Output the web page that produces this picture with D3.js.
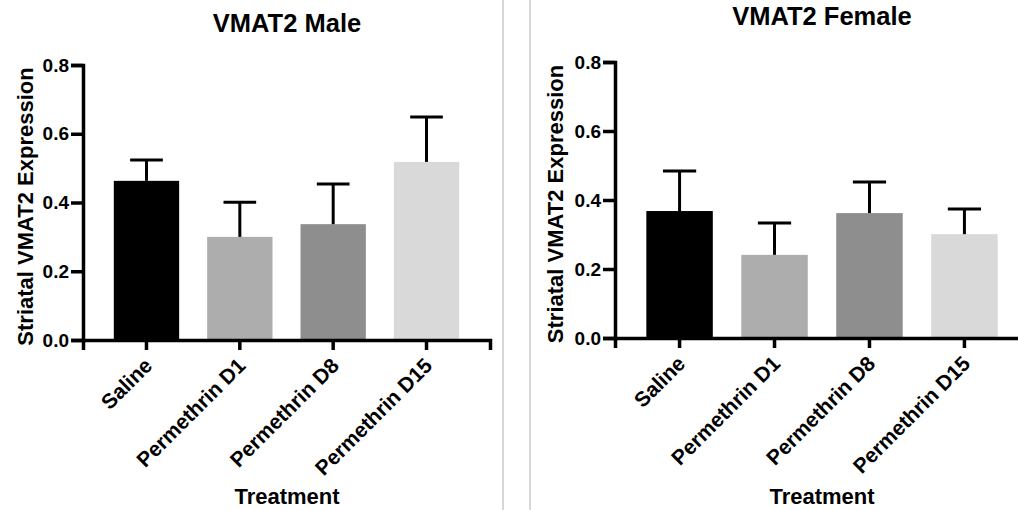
<!DOCTYPE html>
<html>
<head>
<meta charset="utf-8">
<script src="https://cdn.jsdelivr.net/npm/d3@7"></script>
<style>
  body { margin: 0; background: #fff; }
  svg { display: block; font-family: "Liberation Sans", Arial, Helvetica, sans-serif; }
</style>
</head>
<body>
<svg id="chart" width="1018" height="510"></svg>
<script>
// data
const treatments = ['Saline', 'Permethrin D1', 'Permethrin D8', 'Permethrin D15'];
const bar_colors = ['#000000', '#adadad', '#8e8e8e', '#d9d9d9'];
const y_ticks = [0.0, 0.2, 0.4, 0.6, 0.8];

const male_mean = [0.463, 0.300, 0.337, 0.518];
const male_sem = [0.061, 0.101, 0.117, 0.131];

const female_mean = [0.368, 0.241, 0.362, 0.301];
const female_sem = [0.116, 0.092, 0.090, 0.073];

const svg = d3.select('#chart');

// grey panel separators
[503, 530].forEach(function (x) {
	svg.append('line')
		.attr('x1', x).attr('x2', x)
		.attr('y1', 0).attr('y2', 510)
		.attr('stroke', '#bdbdbd')
		.attr('stroke-width', 1.2);
});

function panel(opts) {
	const g = svg.append('g');

	let x = d3.scaleBand()
		.domain(treatments)
		.range([opts.left, opts.right])
		.paddingInner(0.3)
		.paddingOuter(0.33);

	let y = d3.scaleLinear()
		.domain([0, 0.8])
		.range([opts.bottom, opts.top]);

	const data = treatments.map((t, i) => ({ t: t, mean: opts.mean[i], sem: opts.sem[i], color: bar_colors[i] }));

	// bars
	g.selectAll('rect.bar')
		.data(data)
		.enter()
		.append('rect')
		.attr('class', 'bar')
		.attr('x', d => x(d.t))
		.attr('width', x.bandwidth())
		.attr('y', d => y(d.mean))
		.attr('height', d => y(0) - y(d.mean))
		.attr('fill', d => d.color);

	// error bars (upper only)
	const cap = x.bandwidth() / 2;
	data.forEach(function (d) {
		const cx = x(d.t) + x.bandwidth() / 2;
		g.append('line')
			.attr('x1', cx).attr('x2', cx)
			.attr('y1', y(d.mean)).attr('y2', y(d.mean + d.sem))
			.attr('stroke', '#000').attr('stroke-width', 3);
		g.append('line')
			.attr('x1', cx - cap / 2).attr('x2', cx + cap / 2)
			.attr('y1', y(d.mean + d.sem)).attr('y2', y(d.mean + d.sem))
			.attr('stroke', '#000').attr('stroke-width', 3);
	});

	// x axis
	const xa = g.append('g')
		.attr('transform', 'translate(0,' + opts.bottom + ')')
		.call(d3.axisBottom(x).tickSizeOuter(0).tickSize(10));

	xa.selectAll('text')
		.attr('text-anchor', 'end')
		.attr('y', 0)
		.attr('dy', 0)
		.attr('transform', 'translate(7,27) rotate(-45)')
		.style('font-size', '21px')
		.style('font-weight', 'bold')
		.attr('fill', '#000');

	// y axis
	const ya = g.append('g')
		.attr('transform', 'translate(' + opts.left + ',0)')
		.call(d3.axisLeft(y).tickValues(y_ticks).tickFormat(d3.format('.1f')).tickSizeOuter(0).tickSize(12).tickPadding(2));

	ya.selectAll('text')
		.style('font-size', '19px')
		.style('font-weight', 'bold')
		.attr('fill', '#000');

	[xa, ya].forEach(function (a) {
		a.select('.domain').attr('stroke', '#000').attr('stroke-width', 3.5);
		a.selectAll('.tick line').attr('stroke', '#000').attr('stroke-width', 3.5);
	});

	// titles
	g.append('text')
		.attr('x', opts.title_x)
		.attr('y', opts.title_y)
		.attr('text-anchor', 'middle')
		.style('font-size', '25.5px')
		.style('font-weight', 'bold')
		.text(opts.title);

	g.append('text')
		.attr('x', opts.title_x)
		.attr('y', 504)
		.attr('text-anchor', 'middle')
		.style('font-size', '22px')
		.style('font-weight', 'bold')
		.text('Treatment');

	g.append('text')
		.attr('transform', 'translate(' + opts.ylab_x + ',' + ((opts.top + opts.bottom) / 2 + 4) + ') rotate(-90)')
		.attr('text-anchor', 'middle')
		.style('font-size', '22px')
		.style('font-weight', 'bold')
		.text('Striatal VMAT2 Expression');
}

panel({
	title: 'VMAT2 Male', mean: male_mean, sem: male_sem,
	left: 83, right: 490, top: 65, bottom: 340,
	title_x: 287, title_y: 32, ylab_x: 33
});

panel({
	title: 'VMAT2 Female', mean: female_mean, sem: female_sem,
	left: 615, right: 1029, top: 62, bottom: 338,
	title_x: 822, title_y: 25, ylab_x: 563
});
</script>
</body>
</html>
